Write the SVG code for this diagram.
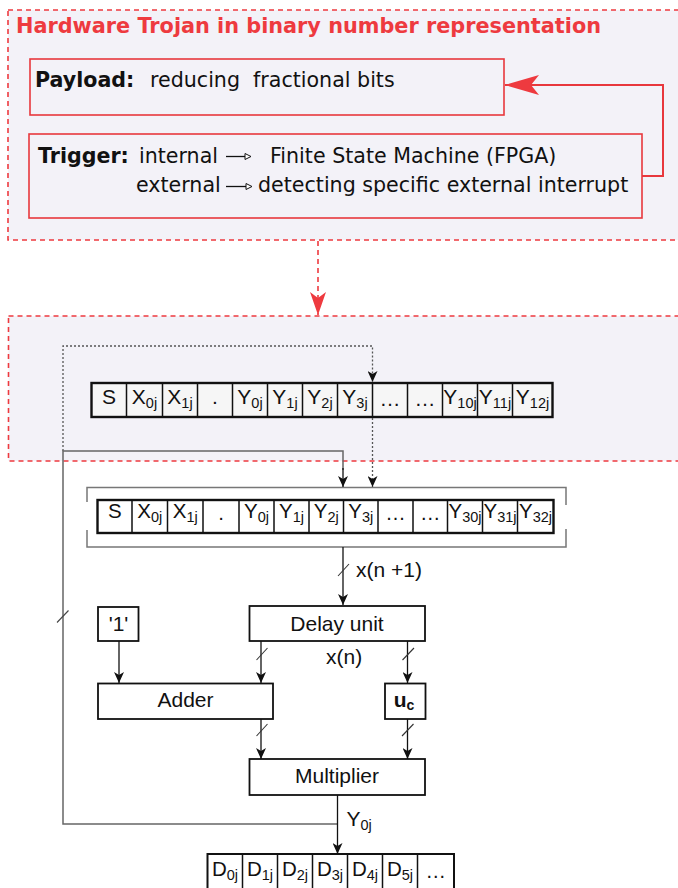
<svg xmlns="http://www.w3.org/2000/svg" width="678" height="888" viewBox="0 0 678 888">
<style>
.zone{fill:#f3f2f8;stroke:#ee3a3f;stroke-width:1.6;stroke-dasharray:5,4}
.rbox{fill:none;stroke:#e8383d;stroke-width:1.6}
.dv{font-family:"DejaVu Sans",sans-serif;font-size:20.6px;fill:#111}
.dvb{font-family:"DejaVu Sans",sans-serif;font-size:20.6px;font-weight:bold;fill:#111}
.title{font-family:"DejaVu Sans",sans-serif;font-size:20.8px;font-weight:bold;fill:#ee3a3f}
.box{fill:#fff;stroke:#111;stroke-width:1.8}
.lbl{font-family:"Liberation Sans",Arial,sans-serif;font-size:21px;fill:#111}
.cell1{font-family:"Liberation Sans",Arial,sans-serif;font-size:21px;fill:#111;text-anchor:middle}
.cell2{font-family:"Liberation Sans",Arial,sans-serif;font-size:20.5px;fill:#111;text-anchor:middle}
.sub{font-size:14.5px}
.ln{fill:none;stroke:#111;stroke-width:1.3}
.gl{fill:none;stroke:#666;stroke-width:1.5}
.dot{fill:none;stroke:#555;stroke-width:1.3;stroke-dasharray:2,2}
.div{stroke:#111;stroke-width:1.5}
</style>
<defs>
<marker id="ah" markerWidth="12" markerHeight="10" refX="11" refY="5" orient="auto" markerUnits="userSpaceOnUse"><path d="M0,0 L11,5 L0,10 L3,5 Z" fill="#111"/></marker>
<marker id="rh" markerWidth="24" markerHeight="16" refX="23" refY="8" orient="auto" markerUnits="userSpaceOnUse"><path d="M0,0 L23,8 L0,16 L6,8 Z" fill="#ee3a3f"/></marker>
<marker id="rh2" markerWidth="36" markerHeight="22" refX="34" refY="11" orient="auto" markerUnits="userSpaceOnUse"><path d="M0,1 L34,11 L0,21 L8,11 Z" fill="#ee3a3f"/></marker>
</defs>

<rect id="zone-trojan" class="zone" x="8" y="10" width="700" height="230"/>
<rect id="zone-register" class="zone" x="8.5" y="316" width="700" height="145"/>
<text class="title" x="16" y="33">Hardware Trojan in binary number representation</text>

<g id="payload">
<rect class="rbox" x="30" y="59" width="474" height="56"/>
<text x="35" y="87" xml:space="preserve"><tspan class="dvb">Payload:</tspan><tspan class="dv" x="150">reducing  fractional bits</tspan></text>
</g>

<g id="trigger">
<rect class="rbox" x="29" y="134" width="613" height="84"/>
<text class="dvb" x="38" y="163">Trigger:</text>
<text class="dv" x="139" y="163">internal</text>
<text class="dv" x="270" y="163">Finite State Machine (FPGA)</text>
<text class="dv" x="136" y="192">external</text>
<text class="dv" x="258" y="192">detecting specific external interrupt</text>
<path d="M226,156.5 H245" stroke="#111" stroke-width="1.3"/>
<path d="M245,153.5 L251,156.5 L245,159.5 Z" fill="#fff" stroke="#111" stroke-width="1"/>
<path d="M226,186.5 H246" stroke="#111" stroke-width="1.3"/>
<path d="M246,183.5 L252,186.5 L246,189.5 Z" fill="#fff" stroke="#111" stroke-width="1"/>
</g>

<g id="register-16">
<rect x="91.5" y="383" width="461" height="34" fill="#f6f6f6" stroke="#111" stroke-width="2.4"/>
<path class="div" d="M126.5,383V417M162.5,383V417M197.5,383V417M232.5,383V417M267.5,383V417M302.5,383V417M337.5,383V417M372.5,383V417M407.5,383V417M442.5,383V417M477.5,383V417M512.5,383V417"/>
<g class="cell1">
<text x="109" y="404">S</text>
<text x="144.5" y="404">X<tspan class="sub" dy="4">0j</tspan></text>
<text x="180" y="404">X<tspan class="sub" dy="4">1j</tspan></text>
<text x="215" y="404">.</text>
<text x="250" y="404">Y<tspan class="sub" dy="4">0j</tspan></text>
<text x="285" y="404">Y<tspan class="sub" dy="4">1j</tspan></text>
<text x="320" y="404">Y<tspan class="sub" dy="4">2j</tspan></text>
<text x="355" y="404">Y<tspan class="sub" dy="4">3j</tspan></text>
<text x="390" y="406">…</text>
<text x="425" y="406">…</text>
<text x="460" y="404">Y<tspan class="sub" dy="4">10j</tspan></text>
<text x="495" y="404">Y<tspan class="sub" dy="4">11j</tspan></text>
<text x="532.5" y="404">Y<tspan class="sub" dy="4">12j</tspan></text>
</g>
</g>

<g id="register-36">
<path d="M87,502V487.5H566V505M87,530V547H566V529" fill="none" stroke="#777" stroke-width="1.5"/>
<rect x="97.5" y="500" width="456" height="33" fill="#fff" stroke="#111" stroke-width="2.4"/>
<path class="div" d="M132,500V533M167.5,500V533M203,500V533M239,500V533M274,500V533M309,500V533M343.5,500V533M378,500V533M413,500V533M447.5,500V533M482.5,500V533M517.5,500V533"/>
<g class="cell2">
<text x="114.75" y="518">S</text>
<text x="149.75" y="518">X<tspan class="sub" dy="4">0j</tspan></text>
<text x="185.25" y="518">X<tspan class="sub" dy="4">1j</tspan></text>
<text x="221" y="520">.</text>
<text x="256.5" y="518">Y<tspan class="sub" dy="4">0j</tspan></text>
<text x="291.5" y="518">Y<tspan class="sub" dy="4">1j</tspan></text>
<text x="326.25" y="518">Y<tspan class="sub" dy="4">2j</tspan></text>
<text x="360.75" y="518">Y<tspan class="sub" dy="4">3j</tspan></text>
<text x="395.5" y="520">…</text>
<text x="430.25" y="520">…</text>
<text x="465" y="518">Y<tspan class="sub" dy="4">30j</tspan></text>
<text x="500" y="518">Y<tspan class="sub" dy="4">31j</tspan></text>
<text x="535.5" y="518">Y<tspan class="sub" dy="4">32j</tspan></text>
</g>
</g>

<g id="delay-unit">
<rect class="box" x="249.5" y="606" width="175.5" height="35"/>
<text class="lbl" x="337" y="631" text-anchor="middle">Delay unit</text>
</g>
<g id="const-one">
<rect class="box" x="98" y="607" width="40.5" height="34"/>
<text class="lbl" x="118.5" y="631" text-anchor="middle">'1'</text>
</g>
<g id="adder">
<rect class="box" x="98" y="683.5" width="175" height="35.5"/>
<text class="lbl" x="185.5" y="707" text-anchor="middle">Adder</text>
</g>
<g id="uc">
<rect class="box" x="385" y="683.5" width="40.5" height="35.5"/>
<text x="404" y="707" text-anchor="middle" font-family="Liberation Sans, Arial, sans-serif" font-weight="bold" font-size="21" fill="#111">u<tspan font-size="14" dy="3">c</tspan></text>
</g>
<g id="multiplier">
<rect class="box" x="249.5" y="759" width="175.5" height="36"/>
<text class="lbl" x="337" y="783" text-anchor="middle">Multiplier</text>
</g>

<g id="output-register">
<rect x="207.5" y="854" width="246.5" height="40" fill="#fff" stroke="#111" stroke-width="2"/>
<path class="div" d="M242.5,854V888M277.5,854V888M312.5,854V888M347.5,854V888M382.5,854V888M417.5,854V888"/>
<g class="cell2">
<text x="225" y="876">D<tspan class="sub" dy="4">0j</tspan></text>
<text x="260" y="876">D<tspan class="sub" dy="4">1j</tspan></text>
<text x="295" y="876">D<tspan class="sub" dy="4">2j</tspan></text>
<text x="330" y="876">D<tspan class="sub" dy="4">3j</tspan></text>
<text x="365" y="876">D<tspan class="sub" dy="4">4j</tspan></text>
<text x="400" y="876">D<tspan class="sub" dy="4">5j</tspan></text>
<text x="435.75" y="878">…</text>
</g>
</g>

<g id="connectors">
<path d="M642,176 H663 V85 H505" fill="none" stroke="#e8383d" stroke-width="2" marker-end="url(#rh2)"/>
<path d="M318,241 V315" fill="none" stroke="#ee3a3f" stroke-width="1.6" stroke-dasharray="5,4" marker-end="url(#rh)"/>
<path class="dot" d="M63,451 V346 H372.5 V382" marker-end="url(#ah)"/>
<path class="dot" d="M372.5,418 V487" marker-end="url(#ah)"/>
<path class="gl" d="M337.5,824 H63 V451 H343 V470"/>
<path class="ln" d="M343,468 V487" marker-end="url(#ah)"/>
<path d="M57,622.5 L68.5,610.5" stroke="#444" stroke-width="1.1"/>
<path class="ln" d="M343,547 V605" marker-end="url(#ah)"/>
<path d="M338,576 L349,564" stroke="#333" stroke-width="1.1"/>
<text class="lbl" x="356" y="577" font-size="20">x(n +1)</text>
<path class="ln" d="M119,641 V683" marker-end="url(#ah)"/>
<path class="ln" d="M261,641 V683" marker-end="url(#ah)"/>
<path d="M256.5,660 L267.5,648" stroke="#333" stroke-width="1.1"/>
<path class="ln" d="M407.5,641 V683" marker-end="url(#ah)"/>
<path d="M402.5,660 L414,648" stroke="#333" stroke-width="1.1"/>
<text class="lbl" x="326" y="664" font-size="20">x(n)</text>
<path class="ln" d="M261,719 V759" marker-end="url(#ah)"/>
<path d="M256.5,736 L267.5,724" stroke="#333" stroke-width="1.1"/>
<path class="ln" d="M407.5,719 V759" marker-end="url(#ah)"/>
<path d="M402,736 L413.5,724" stroke="#333" stroke-width="1.1"/>
<path class="ln" d="M337.5,795 V854" marker-end="url(#ah)"/>
<text class="lbl" x="346.5" y="826" font-size="20">Y<tspan font-size="14.5" dy="4">0j</tspan></text>
</g>
</svg>
